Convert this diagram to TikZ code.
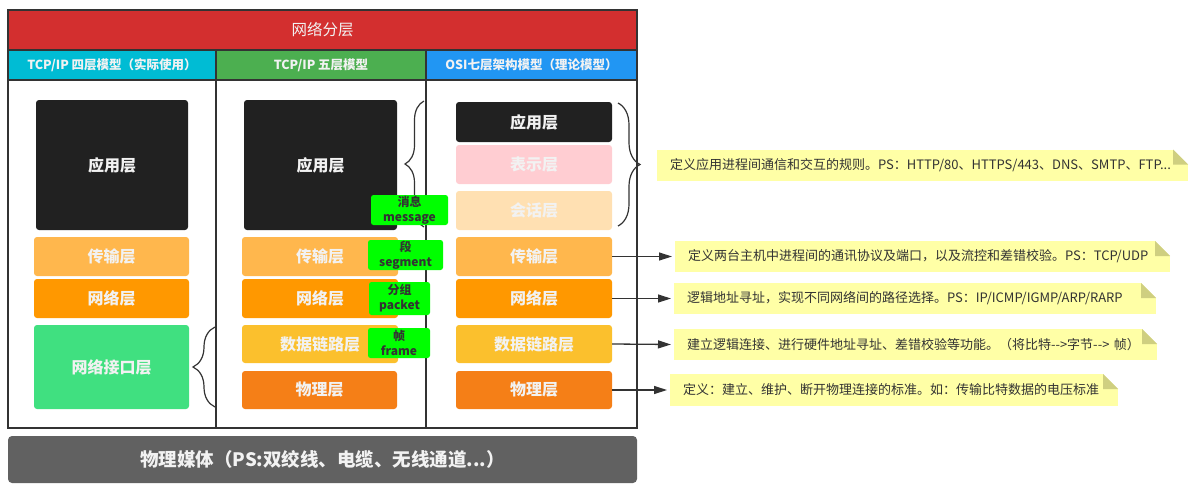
\documentclass[tikz,border=0pt]{standalone}
\usepackage{fontspec}
\setmainfont{Noto Sans CJK SC}
\usetikzlibrary{arrows.meta,decorations.pathreplacing}
\definecolor{frame-dark}{HTML}{333333}
\definecolor{title-red}{HTML}{D32F2F}
\definecolor{head-cyan}{HTML}{00BCD4}
\definecolor{head-green}{HTML}{4CAF50}
\definecolor{head-blue}{HTML}{2196F3}
\definecolor{layer-app}{HTML}{212121}
\definecolor{layer-pres}{HTML}{FFCDD2}
\definecolor{layer-sess}{HTML}{FFE0B2}
\definecolor{layer-trans}{HTML}{FFB74D}
\definecolor{layer-net}{HTML}{FF9800}
\definecolor{layer-link}{HTML}{FBC02D}
\definecolor{layer-phys}{HTML}{F57F17}
\definecolor{layer-iface}{HTML}{40E080}
\definecolor{media-grey}{HTML}{616161}
\definecolor{tag-green}{HTML}{00FF00}
\definecolor{note-yellow}{HTML}{FFFFA6}
\definecolor{note-fold}{HTML}{CFCF80}
\definecolor{label-white}{HTML}{F2F2F2}

\begin{document}
\begin{tikzpicture}[x=1pt, y=-1pt,
    every node/.style={inner sep=0pt, outer sep=0pt},
    cell/.style={draw=frame-dark, line width=1.6pt},
    layer/.style={rounded corners=3pt, text=label-white,
      font=\fontsize{16}{19}\selectfont\bfseries},
    tag/.style={fill=tag-green, rounded corners=2.5pt, text=frame-dark, align=center,
      font=\fontsize{12}{15}\selectfont\bfseries},
    note/.style={fill=note-yellow, inner xsep=13pt, minimum height=31pt, align=left,
      text=frame-dark, font=\fontsize{13}{15}\selectfont,
      path picture={
        \fill[white] (path picture bounding box.north east) -- ++(-15,0) -- ++(15,15) -- cycle;
        \fill[note-fold] (path picture bounding box.north east) ++(-15,0) -- ++(0,15) -- ++(15,0) -- cycle;}},
    curly/.style={draw=frame-dark, line width=1.2pt, decorate,
      decoration={brace, amplitude=#1}},
    link/.style={draw=frame-dark, line width=1.3pt,
      -{Triangle[length=13pt, width=8pt]}, shorten >=3pt}]
  \useasboundingbox (0,0) rectangle (1197,490);

  \node[cell, fill=title-red, minimum width=629, minimum height=40, text=label-white,
    font=\fontsize{15.5}{18}\selectfont] (title) at (322.5,30) {网络分层};
  \node[cell, fill=head-cyan, minimum width=208, minimum height=30, text=label-white,
    font=\fontsize{12.5}{15}\selectfont\bfseries] (h1) at (112,65) {TCP/IP 四层模型（实际使用）};
  \node[cell, fill=head-green, minimum width=210, minimum height=30, text=label-white,
    font=\fontsize{12.5}{15}\selectfont\bfseries] (h2) at (321,65) {TCP/IP 五层模型};
  \node[cell, fill=head-blue, minimum width=211, minimum height=30, text=label-white,
    font=\fontsize{12.5}{15}\selectfont\bfseries] (h3) at (531.5,65) {OSI七层架构模型（理论模型）};
  \node[cell, minimum width=208, minimum height=348] (c1) at (112,254) {};
  \node[cell, minimum width=210, minimum height=348] (c2) at (321,254) {};
  \node[cell, minimum width=211, minimum height=348] (c3) at (531.5,254) {};
  \node[fill=media-grey, rounded corners=4pt, minimum width=629, minimum height=47,
    text=label-white, font=\fontsize{18.5}{22}\selectfont\bfseries] (media) at (322.5,459.5)
    {物理媒体（PS:双绞线、电缆、无线通道...）};

  \node[layer, fill=layer-app, minimum width=152, minimum height=130] (a1) at (112,165) {应用层};
  \node[layer, fill=layer-trans, minimum width=155, minimum height=39] (t1) at (111.5,256.5) {传输层};
  \node[layer, fill=layer-net, minimum width=155, minimum height=39] (w1) at (111.5,298.5) {网络层};
  \node[layer, fill=layer-iface, minimum width=155, minimum height=84] (i1) at (111.5,367) {网络接口层};

  \node[layer, fill=layer-app, minimum width=153, minimum height=130] (a2) at (320.5,165) {应用层};
  \node[layer, fill=layer-trans, minimum width=156, minimum height=39] (t2) at (320,256.5) {传输层};
  \node[layer, fill=layer-net, minimum width=156, minimum height=39] (w2) at (320,298.5) {网络层};
  \node[layer, fill=layer-link, minimum width=156, minimum height=38] (d2) at (320,344) {数据链路层};
  \node[layer, fill=layer-phys, minimum width=155, minimum height=38] (p2) at (319.5,390) {物理层};

  \node[layer, fill=layer-app, minimum width=156, minimum height=40] (a3) at (534,122) {应用层};
  \node[layer, fill=layer-pres, minimum width=156, minimum height=39] (r3) at (534,164.5) {表示层};
  \node[layer, fill=layer-sess, minimum width=156, minimum height=39] (s3) at (534,210.5) {会话层};
  \node[layer, fill=layer-trans, minimum width=156, minimum height=39] (t3) at (534,256.5) {传输层};
  \node[layer, fill=layer-net, minimum width=156, minimum height=39] (w3) at (534,298.5) {网络层};
  \node[layer, fill=layer-link, minimum width=156, minimum height=38] (d3) at (534,344) {数据链路层};
  \node[layer, fill=layer-phys, minimum width=156, minimum height=38] (p3) at (534,390) {物理层};

  \coordinate (b1-top) at (215,327);
  \coordinate (b1-bot) at (215,407);
  \coordinate (b2-top) at (424,101);
  \coordinate (b2-bot) at (424,227);
  \coordinate (b3-top) at (618,103);
  \coordinate (b3-bot) at (618,226);
  \draw[curly=22pt] (b1-bot) -- (b1-top);
  \draw[curly=19pt] (b2-bot) -- (b2-top);
  \draw[curly=22pt] (b3-top) -- (b3-bot);

  \node[tag, minimum width=77, minimum height=30] (msg) at (409.5,210) {消息\\message};
  \node[tag, minimum width=75, minimum height=30] (seg) at (405.5,255) {段\\segment};
  \node[tag, minimum width=61, minimum height=33] (pkt) at (399.5,298.5) {分组\\packet};
  \node[tag, minimum width=62, minimum height=30] (frm) at (399,343) {帧\\frame};

  \node[note, text width=505] (n1) at (922.5,165)
    {定义应用进程间通信和交互的规则。PS：HTTP/80、HTTPS/443、DNS、SMTP、FTP...};
  \node[note, text width=469] (n2) at (922.5,256.5)
    {定义两台主机中进程间的通讯协议及端口，以及流控和差错校验。PS：TCP/UDP};
  \node[note, text width=456] (n3) at (915,298.5)
    {逻辑地址寻址，实现不同网络间的路径选择。PS：IP/ICMP/IGMP/ARP/RARP};
  \node[note, text width=457] (n4) at (915.5,344.5)
    {建立逻辑连接、进行硬件地址寻址、差错校验等功能。（将比特-{}->字节-{}-> 帧）};
  \node[note, text width=422, minimum height=32] (n5) at (894,390)
    {定义：建立、维护、断开物理连接的标准。如：传输比特数据的电压标准};

  \draw[link] (t3.east) -- (n2.west);
  \draw[link] (w3.east) -- (n3.west);
  \draw[link] (d3.east) -- (n4.west);
  \draw[link] (p3.east) -- (n5.west);
\end{tikzpicture}
\end{document}
